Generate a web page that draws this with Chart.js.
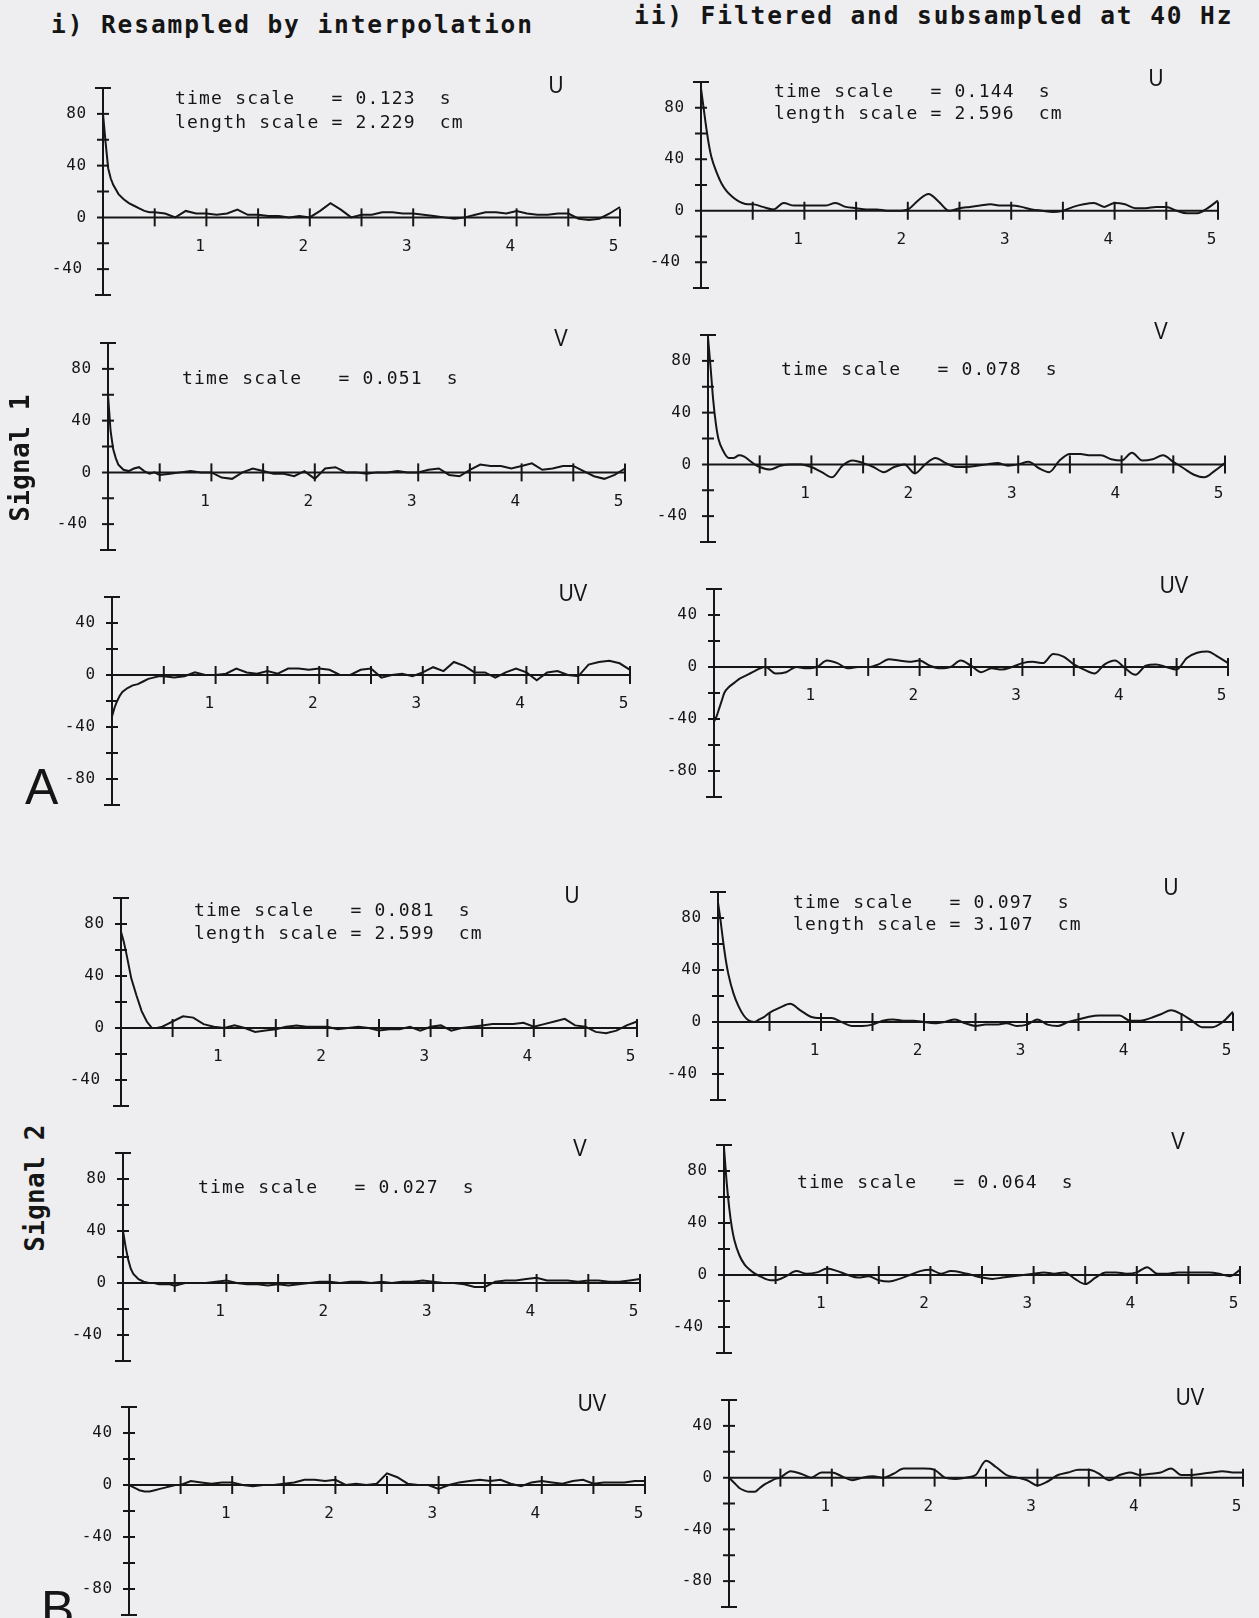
<!DOCTYPE html>
<html>
<head>
<meta charset="utf-8">
<script src="https://cdn.jsdelivr.net/npm/chart.js@4.4.1/dist/chart.umd.min.js"></script>
<style>
  html, body { margin: 0; padding: 0; background: #eeeef0; }
  #page { position: relative; width: 1259px; height: 1618px; overflow: hidden; background: #eeeef0; }
  .t { position: absolute; white-space: pre; color: #151515; line-height: 1; }
  .title { font-family: "DejaVu Sans Mono", monospace; font-weight: bold; font-size: 24.5px; letter-spacing: 1.9px; transform: translateY(-50%); }
  .ann { font-family: "DejaVu Sans Mono", monospace; font-size: 18px; letter-spacing: 1.2px; transform: translateY(-50%); }
  .comp { font-family: "Liberation Sans", Arial, sans-serif; font-size: 24px; transform: translate(-50%, -50%) scaleX(0.86); }
  .sig { font-family: "DejaVu Sans Mono", monospace; font-weight: bold; font-size: 26px; letter-spacing: 0.3px; transform: translate(-50%, -50%) rotate(-90deg); }
  .big { font-family: "Liberation Sans", Arial, sans-serif; font-size: 50px; }
  .wrap { position: absolute; }
</style>
</head>
<body>
<div id="page"></div>
<script>
// ---------------- DATA ----------------
// time lag (s) shared by all curves
const lags = [0, 0.025, 0.05, 0.075, 0.1, 0.15, 0.2, 0.25, 0.3, 0.35, 0.4, 0.45, 0.5,
  0.6, 0.7, 0.8, 0.9, 1.0, 1.1, 1.2, 1.3, 1.4, 1.5,
  1.6, 1.7, 1.8, 1.9, 2.0, 2.1, 2.2, 2.3, 2.4, 2.5,
  2.6, 2.7, 2.8, 2.9, 3.0, 3.1, 3.2, 3.3, 3.4, 3.5,
  3.6, 3.7, 3.8, 3.9, 4.0, 4.1, 4.2, 4.3, 4.4, 4.5,
  4.6, 4.7, 4.8, 4.9, 5.0];

// Signal 1 (A)
const sig1U_interp = [80, 58, 38, 30, 25, 18, 14, 11, 9, 7, 5, 4, 4,
  3, 0, 5, 3, 3, 2, 3, 6, 2, 2,
  1, 1, 0, 1, 0, 5, 11, 6, 0, 2,
  2, 4, 4, 3, 3, 2, 1, 0, -1, 0,
  2, 4, 4, 3, 5, 3, 2, 2, 3, 3,
  -1, -2, -1, 3, 8];
const sig1U_filt = [95, 80, 65, 52, 42, 30, 21, 15, 11, 8, 6, 5, 5,
  3, 1, 6, 4, 4, 4, 4, 6, 3, 2,
  1, 1, 0, 0, 1, 8, 13, 7, 0, 2,
  3, 4, 5, 4, 4, 3, 1, 0, -1, 0,
  3, 5, 6, 3, 6, 5, 2, 2, 3, 3,
  0, -2, -2, 2, 8];
const sig1V_interp = [60, 32, 18, 11, 6, 2, 1, 3, 4, 1, -1, 0, -2,
  -1, 0, 1, 0, 0, -4, -5, 0, 3, 1,
  -1, -1, -3, 1, -5, 3, 4, 0, 0, -1,
  0, 0, 1, 0, 0, 2, 3, -2, -3, 2,
  6, 5, 5, 3, 5, 7, 2, 3, 5, 5,
  1, -3, -5, -2, 3];
const sig1V_filt = [98, 75, 50, 32, 20, 10, 5, 5, 7, 6, 3, 0, -2,
  -4, -1, 0, 0, -2, -6, -10, -1, 3, 1,
  -2, -6, -2, 0, -7, 0, 5, 1, -2, -2,
  -1, 0, 1, -1, 0, 2, -3, -6, 3, 8,
  8, 7, 7, 4, 3, 9, 3, 4, 7, 2,
  -3, -8, -10, -5, 1];
const sig1UV_interp = [-32, -25, -20, -16, -13, -10, -8, -7, -5, -3, -2, -1, -1,
  -2, -1, 2, 0, 0, 1, 5, 2, 1, 3,
  1, 5, 5, 4, 5, 4, 0, 0, 4, 5,
  -2, 0, 1, -1, 2, 6, 3, 10, 7, 2,
  2, -2, 2, 5, 2, -4, 2, 3, 0, -1,
  8, 10, 11, 9, 4];
const sig1UV_filt = [-42, -38, -32, -26, -20, -15, -12, -9, -7, -5, -3, -1, 0,
  -5, -4, 0, -1, 0, 5, 3, -1, 0, 0,
  2, 6, 5, 4, 5, 1, -1, 0, 5, 1,
  -4, -1, -2, 0, 3, 4, 3, 10, 8, 2,
  -2, -5, 2, 5, -1, -6, 1, 2, 0, -2,
  7, 11, 12, 8, 3];

// Signal 2 (B)
const sig2U_interp = [74, 67, 58, 48, 38, 25, 13, 5, 0, 0, 1, 3, 5,
  9, 8, 3, 1, 0, 2, 0, -3, -2, -1,
  1, 2, 1, 1, 1, -1, 0, 1, 0, -2,
  -1, -1, 1, -2, 1, 2, -2, 0, 1, 2,
  3, 3, 3, 4, 1, 3, 5, 7, 2, 1,
  -3, -4, -2, 2, 5];
const sig2U_filt = [92, 78, 62, 48, 37, 22, 12, 5, 1, 0, 2, 4, 7,
  11, 14, 9, 4, 3, 3, 0, -3, -3, -2,
  1, 2, 1, 1, 0, -1, 0, 2, -1, -3,
  -2, -2, -1, -3, -2, 2, -2, -3, 0, 2,
  4, 5, 5, 5, 1, 1, 3, 6, 9, 6,
  1, -4, -4, 0, 8];
const sig2V_interp = [40, 28, 18, 11, 7, 3, 1, 0, 0, -1, -1, -1, -2,
  0, 0, 0, 1, 2, 0, -1, -1, -2, -1,
  -2, -1, 0, 1, 1, 0, 1, 1, 0, 1,
  0, 1, 1, 2, 1, 0, 0, -1, -3, -3,
  1, 2, 2, 3, 4, 2, 2, 2, 1, 2,
  2, 1, 1, 2, 3];
const sig2V_filt = [98, 72, 52, 37, 27, 15, 8, 4, 1, -1, -3, -4, -4,
  -1, 3, 1, 2, 5, 3, 0, -2, -1, -4,
  -5, -3, 0, 3, 4, 1, 3, 2, 0, -2,
  -3, -2, -1, 0, 1, 2, 1, 2, -3, -7,
  -2, 2, 2, 1, 2, 6, 1, 1, 2, 2,
  2, 2, 1, -1, 4];
const sig2UV_interp = [0, -1, -2, -3, -4, -5, -5, -4, -3, -2, -1, 0, 0,
  3, 2, 1, 2, 2, 0, -1, 0, 0, 1,
  2, 4, 4, 3, 4, 0, 1, 0, 1, 9,
  6, 1, 0, 0, -3, 0, 2, 3, 4, 3,
  4, 1, -1, 2, 3, 2, 1, 3, 4, 1,
  2, 2, 2, 3, 3];
const sig2UV_filt = [0, -2, -4, -6, -8, -10, -11, -11, -8, -5, -3, -1, 0,
  5, 3, 0, 4, 4, 1, -2, 0, 1, 0,
  3, 7, 7, 7, 6, 0, -1, 0, 2, 13,
  8, 2, 0, -2, -6, -3, 2, 4, 6, 6,
  3, -2, 2, 4, 2, 3, 4, 7, 2, 2,
  3, 4, 5, 4, 4];

// axis ranges and tick labels
const velRange = [-60, 100];
const covRange = [-100, 60];
const velTickLabels = [80, 40, 0, -40];
const covTickLabels = [40, 0, -40, -80];
const lagTickLabels = [1, 2, 3, 4, 5];
const lagTickStep = 0.5;
const valueTickStep = 20;

// texts
const columnTitles = ["i) Resampled by interpolation", "ii) Filtered and subsampled at 40 Hz"];
const signalNames = ["Signal 1", "Signal 2"];
const caseLetters = ["A", "B"];

// ---------------- LAYOUT ----------------
const INK = "#161616";
const PL = 60, PR = 18, PT = 12, PB = 42;

const panels = [
  { vals: sig1U_interp,  smooth: false, range: velRange, labels: velTickLabels, neg: 20, comp: "U",  x0: 103, x5: 620,  yT: 88,   yB: 295,  cx: 556,  cy: 85,
    ann: ["time scale   = 0.123  s", "length scale = 2.229  cm"], ax: 175, ay: 98, ady: 24 },
  { vals: sig1U_filt,    smooth: true,  range: velRange, labels: velTickLabels, neg: 20, comp: "U",  x0: 701, x5: 1218, yT: 82,   yB: 288,  cx: 1156, cy: 78,
    ann: ["time scale   = 0.144  s", "length scale = 2.596  cm"], ax: 774, ay: 91, ady: 22 },
  { vals: sig1V_interp,  smooth: false, range: velRange, labels: velTickLabels, neg: 20, comp: "V",  x0: 108, x5: 625,  yT: 343,  yB: 550,  cx: 561,  cy: 338,
    ann: ["time scale   = 0.051  s"], ax: 182, ay: 378 },
  { vals: sig1V_filt,    smooth: true,  range: velRange, labels: velTickLabels, neg: 20, comp: "V",  x0: 708, x5: 1225, yT: 335,  yB: 542,  cx: 1161, cy: 331,
    ann: ["time scale   = 0.078  s"], ax: 781, ay: 369 },
  { vals: sig1UV_interp, smooth: false, range: covRange, labels: covTickLabels, neg: 16, comp: "UV", x0: 112, x5: 630,  yT: 597,  yB: 805,  cx: 573,  cy: 593 },
  { vals: sig1UV_filt,   smooth: true,  range: covRange, labels: covTickLabels, neg: 16, comp: "UV", x0: 714, x5: 1228, yT: 589,  yB: 797,  cx: 1174, cy: 585 },
  { vals: sig2U_interp,  smooth: false, range: velRange, labels: velTickLabels, neg: 20, comp: "U",  x0: 121, x5: 637,  yT: 898,  yB: 1106, cx: 572,  cy: 895,
    ann: ["time scale   = 0.081  s", "length scale = 2.599  cm"], ax: 194, ay: 910, ady: 23 },
  { vals: sig2U_filt,    smooth: true,  range: velRange, labels: velTickLabels, neg: 20, comp: "U",  x0: 718, x5: 1233, yT: 892,  yB: 1100, cx: 1171, cy: 887,
    ann: ["time scale   = 0.097  s", "length scale = 3.107  cm"], ax: 793, ay: 902, ady: 22 },
  { vals: sig2V_interp,  smooth: false, range: velRange, labels: velTickLabels, neg: 20, comp: "V",  x0: 123, x5: 640,  yT: 1153, yB: 1361, cx: 580,  cy: 1148,
    ann: ["time scale   = 0.027  s"], ax: 198, ay: 1187 },
  { vals: sig2V_filt,    smooth: true,  range: velRange, labels: velTickLabels, neg: 20, comp: "V",  x0: 724, x5: 1240, yT: 1145, yB: 1353, cx: 1178, cy: 1141,
    ann: ["time scale   = 0.064  s"], ax: 797, ay: 1182 },
  { vals: sig2UV_interp, smooth: false, range: covRange, labels: covTickLabels, neg: 16, comp: "UV", x0: 129, x5: 645,  yT: 1407, yB: 1615, cx: 592,  cy: 1403 },
  { vals: sig2UV_filt,   smooth: true,  range: covRange, labels: covTickLabels, neg: 16, comp: "UV", x0: 729, x5: 1243, yT: 1400, yB: 1607, cx: 1190, cy: 1397 }
];

// ---------------- PLUGIN: crossing axes drawn from the chart's own scales ----------------
const crossAxes = {
  id: "crossAxes",
  beforeDatasetsDraw(chart, args, opts) {
    const ctx = chart.ctx;
    const xs = chart.scales.x, ys = chart.scales.y;
    const X0 = xs.getPixelForValue(0);
    const Y0 = ys.getPixelForValue(0);
    const yt = ys.getPixelForValue(ys.max), yb = ys.getPixelForValue(ys.min);
    const xr = xs.getPixelForValue(xs.max);
    const seg = (a, b, c, d) => { ctx.beginPath(); ctx.moveTo(a, b); ctx.lineTo(c, d); ctx.stroke(); };
    ctx.save();
    ctx.strokeStyle = INK;
    ctx.lineWidth = 2;
    ctx.lineCap = "butt";
    // vertical axis with end caps
    seg(X0, yt, X0, yb);
    seg(X0 - 8, yt, X0 + 8, yt);
    seg(X0 - 8, yb, X0 + 8, yb);
    for (let v = ys.min + valueTickStep; v < ys.max; v += valueTickStep) {
      if (v === 0) continue;
      const p = ys.getPixelForValue(v);
      seg(X0 - 6, p, X0 + 6, p);
    }
    // horizontal axis at zero
    seg(X0 - 6, Y0, xr, Y0);
    for (let t = lagTickStep; t <= xs.max + 1e-9; t += lagTickStep) {
      const p = xs.getPixelForValue(t);
      seg(p, Y0 - 9, p, Y0 + 9);
    }
    // labels
    ctx.fillStyle = INK;
    ctx.font = '16px "DejaVu Sans Mono"';
    if ("letterSpacing" in ctx) ctx.letterSpacing = "0.8px";
    ctx.textAlign = "right";
    ctx.textBaseline = "middle";
    opts.yLabels.forEach(v => {
      ctx.fillText(String(v), X0 - (v < 0 ? opts.neg : 16), ys.getPixelForValue(v));
    });
    ctx.textAlign = "center";
    lagTickLabels.forEach(v => {
      ctx.fillText(String(v), xs.getPixelForValue(v) - 6, Y0 + 29);
    });
    ctx.restore();
  }
};

// ---------------- BUILD ----------------
const page = document.getElementById("page");
function addText(cls, txt, x, y) {
  const d = document.createElement("div");
  d.className = "t " + cls;
  d.textContent = txt;
  d.style.left = x + "px";
  d.style.top = y + "px";
  page.appendChild(d);
  return d;
}

panels.forEach(p => {
  const w = (p.x5 - p.x0) + PL + PR;
  const h = (p.yB - p.yT) + PT + PB;
  const wrap = document.createElement("div");
  wrap.className = "wrap";
  wrap.style.left = (p.x0 - PL) + "px";
  wrap.style.top = (p.yT - PT) + "px";
  wrap.style.width = w + "px";
  wrap.style.height = h + "px";
  const cv = document.createElement("canvas");
  cv.width = w; cv.height = h;
  cv.style.width = w + "px"; cv.style.height = h + "px";
  wrap.appendChild(cv);
  page.appendChild(wrap);

  new Chart(cv.getContext("2d"), {
    type: "line",
    data: {
      datasets: [{
        data: lags.map((l, i) => ({ x: l, y: p.vals[i] })),
        borderColor: INK,
        borderWidth: 2,
        pointRadius: 0,
        fill: false,
        tension: 0,
        cubicInterpolationMode: p.smooth ? "monotone" : "default",
        clip: false
      }]
    },
    options: {
      responsive: false,
      devicePixelRatio: 1,
      animation: false,
      events: [],
      layout: { padding: { left: PL, right: PR, top: PT, bottom: PB } },
      scales: {
        x: { type: "linear", min: 0, max: 5, display: false },
        y: { type: "linear", min: p.range[0], max: p.range[1], display: false }
      },
      plugins: {
        legend: { display: false },
        tooltip: { enabled: false },
        crossAxes: { yLabels: p.labels, neg: p.neg }
      }
    },
    plugins: [crossAxes]
  });

  addText("comp", p.comp, p.cx, p.cy);
  if (p.ann) {
    p.ann.forEach((s, i) => addText("ann", s, p.ax, p.ay + i * (p.ady || 0)));
  }
});

// column titles
addText("title", columnTitles[0], 51, 25);
addText("title", columnTitles[1], 634, 16);
// signal labels (rotated)
addText("sig", signalNames[0], 20, 458);
addText("sig", signalNames[1], 35, 1188);
// case letters
addText("big", caseLetters[0], 25, 762);
addText("big", caseLetters[1], 41, 1584);
</script>
</body>
</html>
